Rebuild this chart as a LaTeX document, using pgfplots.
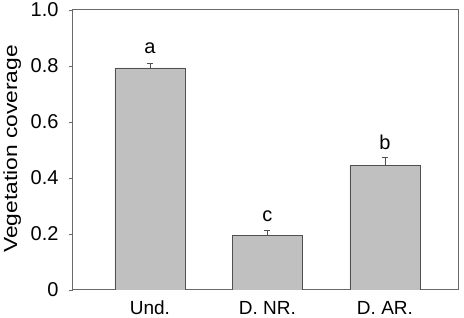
\documentclass[border=0pt]{standalone}
\usepackage{pgfplots}
\pgfplotsset{compat=1.18}
\usepackage{fontspec}
\setmainfont{Liberation Sans}
\definecolor{barfill}{RGB}{192,192,192}
\definecolor{baredge}{RGB}{80,80,80}
\definecolor{axgray}{RGB}{105,105,105}
\begin{document}
\begin{tikzpicture}
\begin{axis}[
  scale only axis,
  width=386pt, height=280pt,
  xmin=-0.655, xmax=2.63,
  ymin=0, ymax=1.0,
  xtick={0,1,2},
  xticklabels={Und., D. NR., D. AR.},
  major x tick style={draw=none},
  ytick={0,0.2,0.4,0.6,0.8,1.0},
  yticklabels={0,0.2,0.4,0.6,0.8,1.0},
  ytick pos=left,
  tick align=outside,
  major tick length=4pt,
  tick style={axgray, line width=0.8pt},
  axis line style={axgray, line width=1pt},
  xticklabel style={font=\fontsize{19}{21}\selectfont, anchor=base, yshift=-21pt, inner sep=0pt},
  yticklabel style={font=\fontsize{20}{22}\selectfont, anchor=east, xshift=-7pt},
  ylabel={\scalebox{1.2}[1.0]{Vegetation coverage}},
  ylabel style={font=\fontsize{19}{21}\selectfont, at={(axis description cs:-0.145,0.504)}, anchor=base, rotate=0},
  /pgf/number format/assume math mode=true,
]
\addplot[ybar, bar width=0.596, fill=barfill, draw=baredge, line width=0.8pt,
  error bars/.cd, y dir=plus, y explicit,
  error bar style={draw=baredge, line width=0.8pt},
  error mark options={rotate=90, mark size=3pt, draw=baredge, line width=0.8pt}]
coordinates {
  (0,0.793) +- (0,0.016)
  (1,0.194) +- (0,0.019)
  (2,0.445) +- (0,0.028)
};
\node[anchor=base, font=\fontsize{20}{22}\selectfont] at (axis cs:0,0.846) {a};
\node[anchor=base, font=\fontsize{20}{22}\selectfont] at (axis cs:1,0.244) {c};
\node[anchor=base, font=\fontsize{20}{22}\selectfont] at (axis cs:2,0.500) {b};
\end{axis}
\pgfresetboundingbox
\useasboundingbox (-73pt,-28pt) rectangle (391pt,290pt);
\end{tikzpicture}
\end{document}
